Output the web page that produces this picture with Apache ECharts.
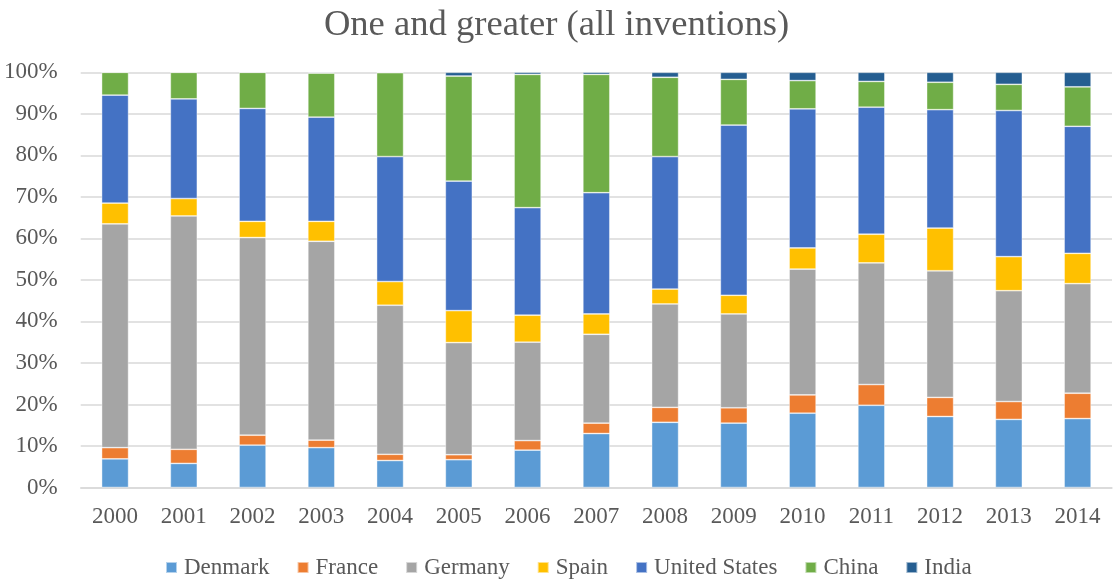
<!DOCTYPE html>
<html>
<head>
<meta charset="utf-8">
<script src="https://cdn.jsdelivr.net/npm/echarts@6/dist/echarts.min.js"></script>
<style>
html,body{margin:0;padding:0;background:#fff;}
#chart{width:1113px;height:582px;}
</style>
</head>
<body>
<div id="chart"></div>
<script>
var years = ['2000','2001','2002','2003','2004','2005','2006','2007','2008','2009','2010','2011','2012','2013','2014'];
var denmark = [6.9, 5.8, 10.2, 9.6, 6.5, 6.7, 9.0, 13.0, 15.7, 15.5, 17.9, 19.8, 17.1, 16.4, 16.6];
var france  = [2.7, 3.4, 2.4, 1.8, 1.5, 1.2, 2.3, 2.5, 3.6, 3.7, 4.4, 5.0, 4.6, 4.3, 6.1];
var germany = [53.9, 56.2, 47.6, 47.9, 35.9, 27.0, 23.7, 21.4, 24.9, 22.6, 30.3, 29.3, 30.5, 26.7, 26.4];
var spain   = [5.0, 4.2, 3.9, 4.8, 5.7, 7.7, 6.5, 4.9, 3.6, 4.5, 5.1, 6.9, 10.3, 8.2, 7.3];
var usa     = [26.0, 24.0, 27.2, 25.1, 30.1, 31.2, 25.9, 29.2, 31.9, 41.0, 33.5, 30.6, 28.5, 35.2, 30.6];
var china   = [5.5, 6.4, 8.7, 10.6, 20.2, 25.3, 32.1, 28.5, 19.1, 11.0, 6.8, 6.2, 6.6, 6.3, 9.5];
var india   = [0, 0, 0, 0.2, 0.1, 0.9, 0.5, 0.5, 1.2, 1.7, 2.0, 2.2, 2.4, 2.9, 3.5];

var names  = ['Denmark','France','Germany','Spain','United States','China','India'];
var colors = ['#5B9BD5','#ED7D31','#A5A5A5','#FFC000','#4472C4','#70AD47','#255E91'];
var dataSets = [denmark, france, germany, spain, usa, china, india];

var font = '"Liberation Serif","Times New Roman",serif';
var txt = '#595959';

var series = names.map(function(n, i){
  return {
    name: n,
    type: 'bar',
    stack: 'total',
    barWidth: 27,
    data: dataSets[i],
    itemStyle: {color: colors[i], borderColor: 'rgba(255,255,255,0.55)', borderWidth: 0.75},
    emphasis: {disabled: true}
  };
});

var chart = echarts.init(document.getElementById('chart'), null, {renderer: 'canvas'});
chart.setOption({
  animation: false,
  backgroundColor: '#fff',
  title: {
    text: 'One and greater (all inventions)',
    left: 'center',
    top: 2,
    textStyle: {fontFamily: font, fontSize: 36.6, fontWeight: 'normal', color: txt}
  },
  legend: {
    data: names,
    left: 160,
    top: 551,
    icon: 'rect',
    itemWidth: 11,
    itemHeight: 11,
    itemGap: 27,
    textStyle: {fontFamily: font, fontSize: 23, color: txt, padding: [0, 0, 0, 2]}
  },
  grid: {left: 80.7, right: 1, top: 72.3, bottom: 94.5, containLabel: false},
  xAxis: {
    type: 'category',
    data: years,
    axisLine: {show: true, lineStyle: {color: '#D9D9D9', width: 1.5}},
    axisTick: {show: false},
    axisLabel: {fontFamily: font, fontSize: 23, color: txt, margin: 18}
  },
  yAxis: {
    type: 'value',
    min: 0,
    max: 100,
    interval: 10,
    axisLine: {show: false},
    axisTick: {show: false},
    splitLine: {lineStyle: {color: '#D9D9D9', width: 1.5}},
    axisLabel: {fontFamily: font, fontSize: 23, color: txt, margin: 23, formatter: '{value}%'}
  },
  series: series
});
</script>
</body>
</html>
